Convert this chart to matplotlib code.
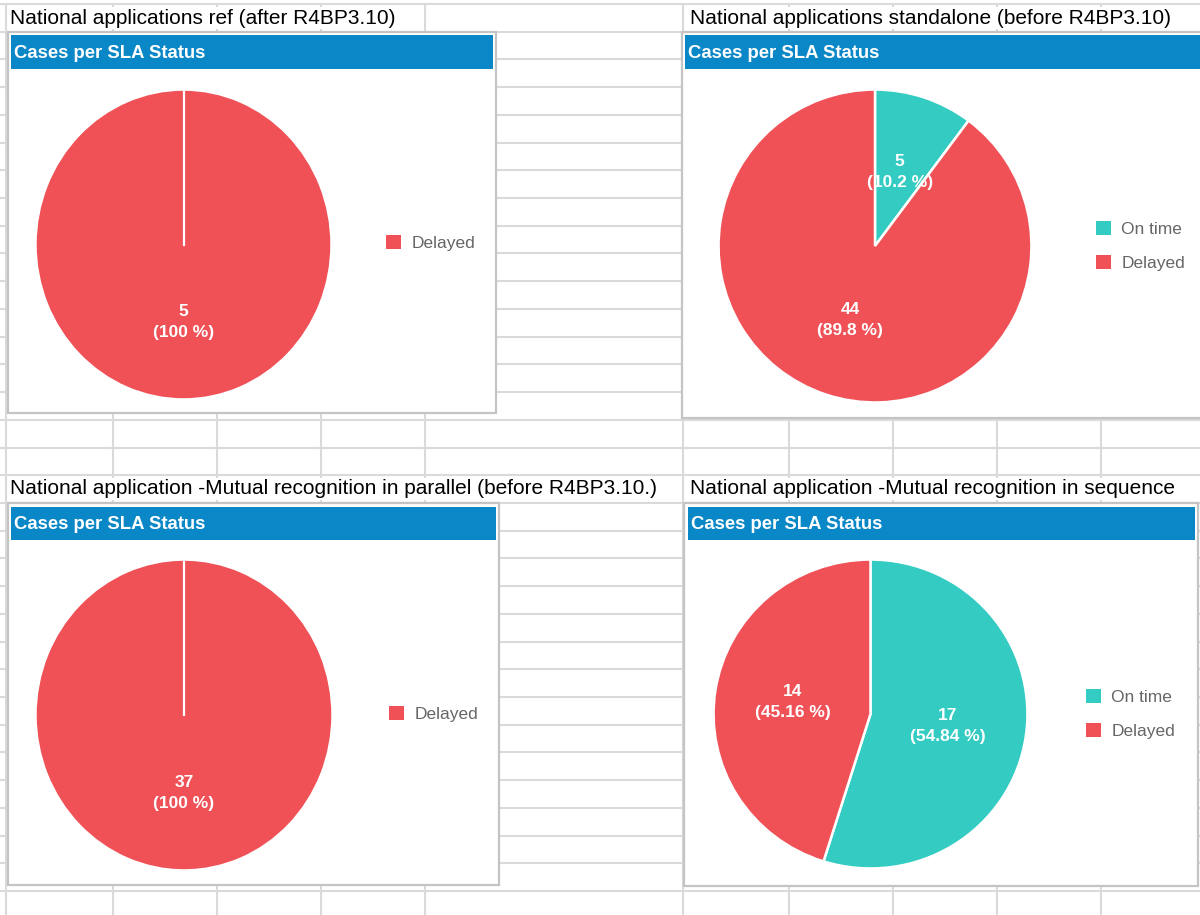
import numpy as np
import matplotlib
matplotlib.use("Agg")
import matplotlib.pyplot as plt
from matplotlib.patches import Rectangle, Patch

plt.rcParams['font.family'] = ['Liberation Sans', 'DejaVu Sans']

# data
captions = [
    "National applications ref (after R4BP3.10)",
    "National applications standalone (before R4BP3.10)",
    "National application -Mutual recognition in parallel (before R4BP3.10.)",
    "National application -Mutual recognition in sequence",
]
panel_title = "Cases per SLA Status"
labels_ref = ["Delayed"]
values_ref = [5]
labels_standalone = ["On time", "Delayed"]
values_standalone = [5, 44]
labels_parallel = ["Delayed"]
values_parallel = [37]
labels_sequence = ["On time", "Delayed"]
values_sequence = [17, 14]

colours = {"On time": "#33CBC2", "Delayed": "#EF5157"}
blue = "#0A87C6"
grid_col = "#DADADA"

W, H = 1200, 915
fig = plt.figure(figsize=(12, 9.15), dpi=100)


def fbox(x0, y0, x1, y1):
    # pixel box (top-left origin) -> figure fraction rect
    return [x0 / W, 1 - y1 / H, (x1 - x0) / W, (y1 - y0) / H]


# spreadsheet background
bg = fig.add_axes([0, 0, 1, 1])
bg.set_xlim(0, W)
bg.set_ylim(H, 0)
bg.axis('off')
rows = 4 + 27.72 * np.arange(34)
bg.hlines(rows, 0, W, color=grid_col, lw=1.5, zorder=1)
cols = [6, 113, 217, 321, 425, 683, 789, 893, 997, 1101]
bg.vlines(cols, 4, H, color=grid_col, lw=1.5, zorder=1)

panels = [
    # caption xy, box, title bar, pie box, legend anchor
    dict(cap=(10, 18), box=(8, 32, 496, 413), bar=(11, 35, 493, 69),
         pie=(34, 88, 333, 401), leg=(386, 243)),
    dict(cap=(690, 18), box=(682, 32, 1210, 418), bar=(685, 35, 1210, 69),
         pie=(717, 88, 1033, 404), leg=(1096, 246)),
    dict(cap=(10, 489), box=(8, 503, 499, 885), bar=(11, 507, 496, 540),
         pie=(34, 558, 334, 872), leg=(389, 714)),
    dict(cap=(690, 489), box=(684, 503, 1198, 886), bar=(688, 507, 1195, 540),
         pie=(712, 558, 1029, 870), leg=(1086, 714)),
]
data = [(labels_ref, values_ref), (labels_standalone, values_standalone),
        (labels_parallel, values_parallel), (labels_sequence, values_sequence)]


def make_autopct(vals):
    total = sum(vals)

    def fmt(pct):
        n = int(round(pct * total / 100))
        return f"{n}\n({round(pct, 2):g} %)"
    return fmt


for cap, p, (labels, vals) in zip(captions, panels, data):
    bg.text(p['cap'][0], p['cap'][1], cap, fontsize=15, color='black',
            va='center', ha='left', zorder=2,
            bbox=dict(facecolor='white', edgecolor='none', pad=1))
    x0, y0, x1, y1 = p['box']
    bg.add_patch(Rectangle((x0, y0), x1 - x0, y1 - y0, facecolor='white',
                           edgecolor='#C4C4C4', lw=1.6, zorder=3))
    x0, y0, x1, y1 = p['bar']
    bg.add_patch(Rectangle((x0, y0), x1 - x0, y1 - y0, facecolor=blue,
                           edgecolor='none', zorder=4))
    bg.text(x0 + 3, (y0 + y1) / 2 + 1, panel_title, fontsize=13.3,
            fontweight='bold', color='white', va='center', ha='left', zorder=5)

    ax = fig.add_axes(fbox(*p['pie']))
    start = 90
    ax.pie(vals, colors=[colours[l] for l in labels], startangle=start,
           counterclock=False, autopct=make_autopct(vals), pctdistance=0.5,
           wedgeprops=dict(edgecolor='white', linewidth=1.8),
           textprops=dict(color='white', fontweight='bold', fontsize=12.5,
                          linespacing=1.5))
    if len(vals) == 1:
        a = np.deg2rad(start)
        ax.plot([0, np.cos(a)], [0, np.sin(a)], color='white', lw=1.6)
    ax.set_xlim(-1.01, 1.01)
    ax.set_ylim(-1.01, 1.01)
    ax.set_aspect('auto')

    handles = [Patch(facecolor=colours[l], edgecolor='none', label=l) for l in labels]
    lx, ly = p['leg']
    ax.legend(handles=handles, loc='center left',
              bbox_to_anchor=(lx / W, 1 - ly / H), bbox_transform=fig.transFigure,
              frameon=False, borderpad=0, borderaxespad=0,
              handlelength=0.85, handleheight=0.85, handletextpad=0.6,
              labelspacing=1.0, fontsize=12.5, labelcolor='#666666')

fig.savefig('out.png', dpi=100)
